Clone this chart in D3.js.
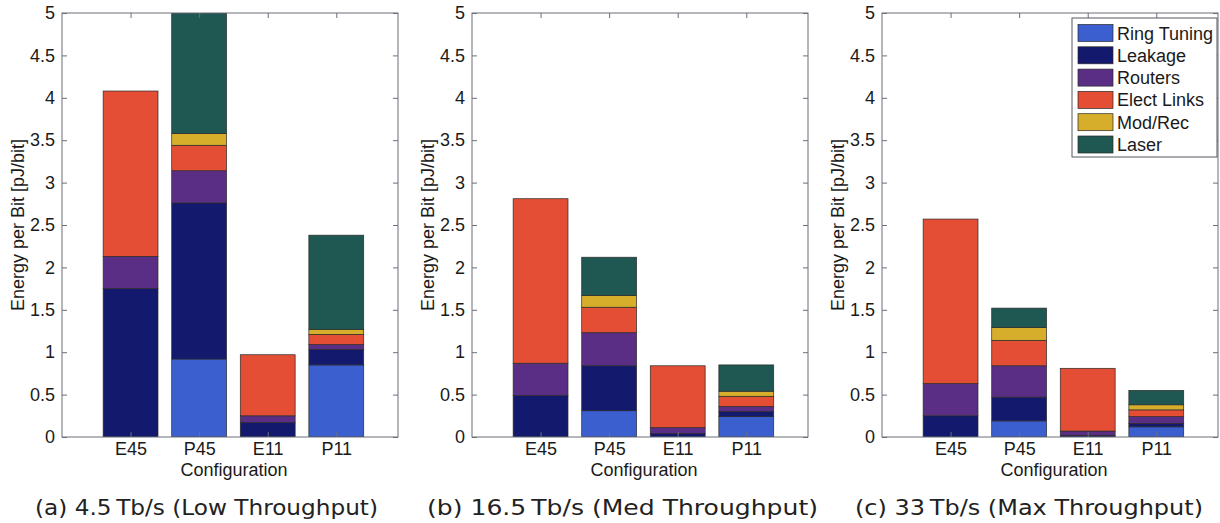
<!DOCTYPE html>
<html>
<head>
<meta charset="utf-8">
<script src="https://cdn.jsdelivr.net/npm/d3@7"></script>
<style>
  html, body { margin: 0; padding: 0; background: #fff; }
  svg { display: block; }
  .axis text { font-family: "Liberation Sans", Arial, sans-serif; font-size: 18px; fill: #1a1a1a; }
  .axis path, .axis line { stroke: #6b6f78; }
</style>
</head>
<body>
<svg id="chart" width="1220" height="523"></svg>
<script>
// Network configurations on the x axis
const configs = ["E45", "P45", "E11", "P11"];
// Energy components, stacked bottom to top
const components = ["Ring Tuning", "Leakage", "Routers", "Elect Links", "Mod/Rec", "Laser"];
const componentColors = ["#3b5fcf", "#131a6e", "#5b2e85", "#e44e35", "#d6ae2c", "#1f5852"];
const yTicks = [0, 0.5, 1, 1.5, 2, 2.5, 3, 3.5, 4, 4.5, 5];

// Energy per bit [pJ/bit] per component (rows) for E45, P45, E11, P11 (columns)
const lowThroughput = [
  [0.00, 0.92, 0.00, 0.85],
  [1.75, 1.84, 0.17, 0.18],
  [0.38, 0.38, 0.08, 0.06],
  [1.95, 0.30, 0.72, 0.12],
  [0.00, 0.14, 0.00, 0.06],
  [0.00, 1.42, 0.00, 1.11]
];
const medThroughput = [
  [0.00, 0.31, 0.00, 0.24],
  [0.49, 0.53, 0.04, 0.06],
  [0.38, 0.39, 0.07, 0.06],
  [1.94, 0.30, 0.73, 0.12],
  [0.00, 0.14, 0.00, 0.06],
  [0.00, 0.45, 0.00, 0.31]
];
const maxThroughput = [
  [0.00, 0.19, 0.00, 0.12],
  [0.25, 0.28, 0.02, 0.04],
  [0.38, 0.37, 0.05, 0.08],
  [1.94, 0.30, 0.74, 0.08],
  [0.00, 0.15, 0.00, 0.06],
  [0.00, 0.23, 0.00, 0.17]
];
const captions = [
  "(a) 4.5\u2009Tb/s (Low Throughput)",
  "(b) 16.5\u2009Tb/s (Med Throughput)",
  "(c) 33\u2009Tb/s (Max Throughput)"
];

const panels = [
  { data: lowThroughput, left: 62, caption: captions[0], capX: 35, capW: 343, legend: false },
  { data: medThroughput, left: 472, caption: captions[1], capX: 427, capW: 391, legend: false },
  { data: maxThroughput, left: 882, caption: captions[2], capX: 855, capW: 348, legend: true }
];

const svg = d3.select("#chart");
const plotW = 336, plotTop = 13, plotBottom = 437;

const y = d3.scaleLinear().domain([0, 5]).range([plotBottom, plotTop]);

panels.forEach((p, pi) => {
  const g = svg.append("g");
  const x = d3.scaleLinear().domain([0, 4.9]).range([p.left, p.left + plotW]);
  const barW = x(0.8) - x(0);

  // rows -> records per configuration for stacking
  const records = configs.map((c, j) => {
    const r = { config: c, pos: j + 1 };
    components.forEach((k, i) => { r[k] = p.data[i][j]; });
    return r;
  });
  const series = d3.stack().keys(components)(records);

  const clipId = "clip" + pi;
  svg.append("clipPath").attr("id", clipId)
    .append("rect").attr("x", p.left).attr("y", plotTop).attr("width", plotW).attr("height", plotBottom - plotTop);

  const bars = g.append("g").attr("clip-path", `url(#${clipId})`);
  series.forEach((s, si) => {
    bars.append("g").selectAll("rect")
      .data(s.filter(d => d[1] - d[0] > 0))
      .join("rect")
      .attr("x", d => x(d.data.pos) - barW / 2)
      .attr("y", d => y(d[1]))
      .attr("width", barW)
      .attr("height", d => y(d[0]) - y(d[1]))
      .attr("fill", componentColors[si])
      .attr("stroke", "#2a2a2a")
      .attr("stroke-width", 0.7);
  });

  // frame
  g.append("rect")
    .attr("x", p.left).attr("y", plotTop).attr("width", plotW).attr("height", plotBottom - plotTop)
    .attr("fill", "none").attr("stroke", "#6b6f78").attr("stroke-width", 1);

  // left axis with inward ticks
  g.append("g").attr("class", "axis")
    .attr("transform", `translate(${p.left},0)`)
    .call(d3.axisLeft(y).tickValues(yTicks).tickFormat(d3.format("")).tickSizeInner(-5).tickSizeOuter(0).tickPadding(7))
    .call(a => a.select(".domain").remove());
  // right axis ticks (no labels)
  g.append("g").attr("class", "axis")
    .attr("transform", `translate(${p.left + plotW},0)`)
    .call(d3.axisRight(y).tickValues(yTicks).tickFormat("").tickSizeInner(-5).tickSizeOuter(0))
    .call(a => a.select(".domain").remove());
  // bottom axis
  g.append("g").attr("class", "axis")
    .attr("transform", `translate(0,${plotBottom})`)
    .call(d3.axisBottom(x).tickValues([1, 2, 3, 4]).tickFormat(d => configs[d - 1]).tickSizeInner(-5).tickSizeOuter(0).tickPadding(5))
    .call(a => a.select(".domain").remove());
  // top ticks
  g.append("g").attr("class", "axis")
    .attr("transform", `translate(0,${plotTop})`)
    .call(d3.axisTop(x).tickValues([1, 2, 3, 4]).tickFormat("").tickSizeInner(-5).tickSizeOuter(0))
    .call(a => a.select(".domain").remove());

  // axis titles
  g.append("text")
    .attr("x", p.left + plotW / 2 + 4).attr("y", 476)
    .attr("text-anchor", "middle")
    .style("font-family", "Liberation Sans, Arial, sans-serif").style("font-size", "18px").attr("fill", "#1a1a1a")
    .text("Configuration");
  g.append("text")
    .attr("transform", `translate(${p.left - 38},${(plotTop + plotBottom) / 2}) rotate(-90)`)
    .attr("text-anchor", "middle")
    .style("font-family", "Liberation Sans, Arial, sans-serif").style("font-size", "18px").attr("fill", "#1a1a1a")
    .text("Energy per Bit [pJ/bit]");

  // sub-figure caption
  g.append("text")
    .attr("x", p.capX).attr("y", 515)
    .attr("textLength", p.capW).attr("lengthAdjust", "spacingAndGlyphs")
    .style("font-family", "DejaVu Sans, sans-serif").style("font-size", "21px").attr("fill", "#222")
    .text(p.caption);

  // legend
  if (p.legend) {
    const lg = g.append("g");
    const lx = 1072, ly = 18, rowH = 22.3;
    lg.append("rect").attr("x", lx).attr("y", ly).attr("width", 145).attr("height", 139)
      .attr("fill", "#fff").attr("stroke", "#55585f").attr("stroke-width", 1);
    components.forEach((k, i) => {
      const cy = ly + 15 + i * rowH;
      lg.append("rect").attr("x", lx + 6).attr("y", cy - 8.5).attr("width", 35).attr("height", 17)
        .attr("fill", componentColors[i]).attr("stroke", "#2a2a2a").attr("stroke-width", 0.7);
      lg.append("text").attr("x", lx + 45).attr("y", cy + 6.5)
        .style("font-family", "Liberation Sans, Arial, sans-serif").style("font-size", "18px").attr("fill", "#1a1a1a")
        .text(k);
    });
  }
});
</script>
</body>
</html>
